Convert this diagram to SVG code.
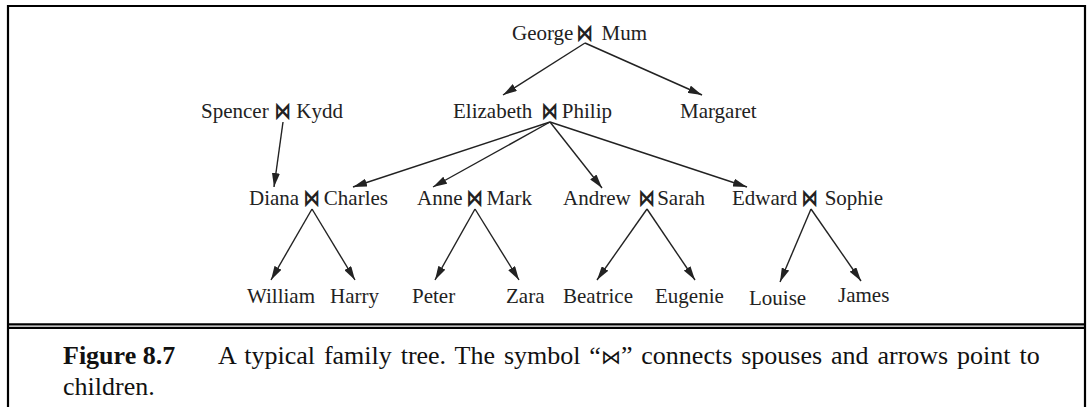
<svg xmlns="http://www.w3.org/2000/svg" width="1087" height="407" viewBox="0 0 1087 407">
<style>
.t{font-family:"Liberation Serif","Times New Roman",serif;font-size:21px;fill:#222}
.b{font-family:"DejaVu Sans",sans-serif;font-size:24px;font-weight:bold;fill:#222;text-anchor:middle}
.cap{font-family:"Liberation Serif","Times New Roman",serif;font-size:26px;fill:#111}
.frame{stroke:#000;stroke-width:2.2;fill:none}
.e{stroke:#222;stroke-width:1.4;fill:none;marker-end:url(#ah)}
</style>
<defs>
<marker id="ah" viewBox="0 0 14 8" refX="14" refY="4" markerWidth="14" markerHeight="8" markerUnits="userSpaceOnUse" orient="auto">
<path d="M0,0 L14,4 L0,8 Z" fill="#222"/>
</marker>
</defs>
<rect width="1087" height="407" fill="#fff"/>
<g id="frame">
<path class="frame" d="M8,407 V6 H1085 V407"/>
<line class="frame" x1="8" y1="324.3" x2="1085" y2="324.3"/>
<line class="frame" x1="8" y1="327.8" x2="1085" y2="327.8"/>
</g>
<g id="connectors">
<line class="e" x1="585" y1="43" x2="503" y2="95"/>
<line class="e" x1="585" y1="43" x2="702" y2="95"/>
<line class="e" x1="283" y1="122" x2="274" y2="187"/>
<line class="e" x1="550" y1="122" x2="353" y2="187"/>
<line class="e" x1="550" y1="122" x2="433" y2="187"/>
<line class="e" x1="550" y1="122" x2="602" y2="188"/>
<line class="e" x1="550" y1="122" x2="747" y2="187"/>
<line class="e" x1="312" y1="209" x2="271" y2="280"/>
<line class="e" x1="312" y1="209" x2="355" y2="280"/>
<line class="e" x1="475" y1="209" x2="435" y2="280"/>
<line class="e" x1="475" y1="209" x2="519" y2="280"/>
<line class="e" x1="647" y1="209" x2="597" y2="280"/>
<line class="e" x1="647" y1="209" x2="695" y2="280"/>
<line class="e" x1="811" y1="209" x2="780" y2="282"/>
<line class="e" x1="811" y1="209" x2="861" y2="281"/>
</g>
<g id="george-mum">
<text class="t" x="512" y="40">George</text><text class="b" transform="translate(585,41) scale(0.7,1)">⋈</text><text class="t" x="647" y="40" text-anchor="end">Mum</text>
</g>
<g id="spencer-kydd">
<text class="t" x="201" y="118">Spencer</text><text class="b" transform="translate(283,119) scale(0.7,1)">⋈</text><text class="t" x="343" y="118" text-anchor="end">Kydd</text>
</g>
<g id="elizabeth-philip">
<text class="t" x="453" y="118">Elizabeth</text><text class="b" transform="translate(550,119) scale(0.7,1)">⋈</text><text class="t" x="612" y="118" text-anchor="end">Philip</text>
</g>
<g id="margaret">
<text class="t" x="680" y="118">Margaret</text>
</g>
<g id="diana-charles">
<text class="t" x="249" y="205">Diana</text><text class="b" transform="translate(312,206) scale(0.7,1)">⋈</text><text class="t" x="388" y="205" text-anchor="end">Charles</text>
</g>
<g id="anne-mark">
<text class="t" x="417" y="205">Anne</text><text class="b" transform="translate(475,206) scale(0.7,1)">⋈</text><text class="t" x="532" y="205" text-anchor="end">Mark</text>
</g>
<g id="andrew-sarah">
<text class="t" x="563" y="205">Andrew</text><text class="b" transform="translate(647,206) scale(0.7,1)">⋈</text><text class="t" x="705" y="205" text-anchor="end">Sarah</text>
</g>
<g id="edward-sophie">
<text class="t" x="732" y="205">Edward</text><text class="b" transform="translate(810,206) scale(0.7,1)">⋈</text><text class="t" x="883" y="205" text-anchor="end">Sophie</text>
</g>
<g id="william"><text class="t" x="247" y="303">William</text></g>
<g id="harry"><text class="t" x="330" y="303">Harry</text></g>
<g id="peter"><text class="t" x="412" y="303">Peter</text></g>
<g id="zara"><text class="t" x="506" y="303">Zara</text></g>
<g id="beatrice"><text class="t" x="563" y="303">Beatrice</text></g>
<g id="eugenie"><text class="t" x="655" y="303">Eugenie</text></g>
<g id="louise"><text class="t" x="749" y="305">Louise</text></g>
<g id="james"><text class="t" x="838" y="302">James</text></g>
<g id="caption">
<text class="cap" x="63" y="364" font-weight="bold">Figure 8.7</text>
<text class="cap" x="218" y="364" word-spacing="2.4">A typical family tree. The symbol “<tspan font-family="DejaVu Serif" font-size="20">⋈</tspan>” connects spouses and arrows point to</text>
<text class="cap" x="63" y="395">children.</text>
</g>
</svg>
